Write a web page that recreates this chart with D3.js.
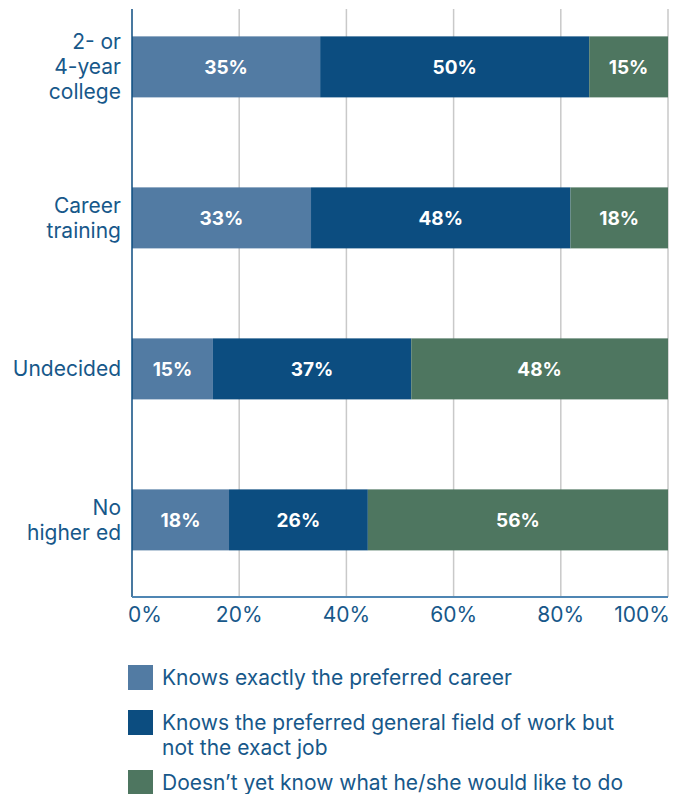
<!DOCTYPE html>
<html>
<head>
<meta charset="utf-8">
<script src="https://cdn.jsdelivr.net/npm/d3@7"></script>
<style>
  body { margin: 0; background: #fff; }
  svg { display: block; font-family: Inter, "Noto Sans", sans-serif; }
</style>
</head>
<body>
<svg id="chart" width="689" height="794"></svg>
<script>
// categories (top to bottom), each label split into lines
var categories = ['college', 'training', 'undecided', 'none'];
var categoryLines = [
  ['2- or', '4-year', 'college'],
  ['Career', 'training'],
  ['Undecided'],
  ['No', 'higher ed']
];

// series values in percent (bar lengths; labels are rounded)
var knowsCareer = [35.1, 33.4, 15.1, 18.1];
var knowsField = [50.2, 48.4, 37.0, 25.9];
var doesntKnow = [14.7, 18.2, 47.9, 56.0];

var seriesNames = [
  'Knows exactly the preferred career',
  'Knows the preferred general field of work but not the exact job',
  'Doesn\u2019t yet know what he/she would like to do'
];
var legendLines = [
  ['Knows exactly the preferred career'],
  ['Knows the preferred general field of work but', 'not the exact job'],
  ['Doesn\u2019t yet know what he/she would like to do']
];
var xTicks = [0, 20, 40, 60, 80, 100];

var colors = ['#527ba3', '#0c4d80', '#4e7660'];
var textColor = '#17588a';

var svg = d3.select('#chart');
var plotLeft = 132, plotRight = 668, plotTop = 9, plotBottom = 597;
var fontSize = 21;

var x = d3.scaleLinear().domain([0, 100]).range([plotLeft, plotRight]);
var y = d3.scaleBand().domain(categories).range([plotTop, plotBottom])
    .paddingInner(0.596).paddingOuter(0.245).align(0.37);

// build rows for stacking
var rows = categories.map(function (c, i) {
  return { cat: c, s0: knowsCareer[i], s1: knowsField[i], s2: doesntKnow[i] };
});
var stack = d3.stack().keys(['s0', 's1', 's2']);
var layers = stack(rows);

// gridlines
svg.append('g').selectAll('line')
  .data(xTicks.filter(function (d) { return d > 0; }))
  .enter().append('line')
  .attr('x1', function (d) { return x(d); })
  .attr('x2', function (d) { return x(d); })
  .attr('y1', plotTop)
  .attr('y2', plotBottom)
  .attr('stroke', '#c9c9c9')
  .attr('stroke-width', 1.5);

// bars
var layerG = svg.append('g').selectAll('g')
  .data(layers)
  .enter().append('g')
  .attr('fill', function (d, i) { return colors[i]; });

layerG.selectAll('rect')
  .data(function (d) { return d; })
  .enter().append('rect')
  .attr('x', function (d) { return x(d[0]); })
  .attr('width', function (d) { return x(d[1]) - x(d[0]); })
  .attr('y', function (d) { return y(d.data.cat); })
  .attr('height', y.bandwidth());

// value labels
layerG.selectAll('text')
  .data(function (d) { return d; })
  .enter().append('text')
  .attr('x', function (d) { return (x(d[0]) + x(d[1])) / 2; })
  .attr('y', function (d) { return y(d.data.cat) + y.bandwidth() / 2; })
  .attr('dy', '0.36em')
  .attr('text-anchor', 'middle')
  .attr('fill', '#fff')
  .attr('font-weight', 700)
  .attr('font-size', 19)
  .text(function (d) { return Math.round(d[1] - d[0]) + '%'; });

// y axis line
svg.append('line')
  .attr('x1', plotLeft).attr('x2', plotLeft)
  .attr('y1', plotTop).attr('y2', plotBottom)
  .attr('stroke', '#0c4d80').attr('stroke-width', 1.5);

// x axis line
svg.append('line')
  .attr('x1', plotLeft).attr('x2', plotRight)
  .attr('y1', plotBottom).attr('y2', plotBottom)
  .attr('stroke', '#4f86b3').attr('stroke-width', 2);

// x tick labels
svg.append('g').selectAll('text')
  .data(xTicks)
  .enter().append('text')
  .attr('x', function (d) { return x(d); })
  .attr('y', 622)
  .attr('text-anchor', function (d, i) {
    return i === 0 ? 'start' : (i === xTicks.length - 1 ? 'end' : 'middle');
  })
  .attr('dx', function (d, i) { return i === 0 ? -4 : (i === xTicks.length - 1 ? 2 : 0); })
  .attr('fill', textColor)
  .attr('font-size', fontSize)
  .text(function (d) { return d + '%'; });

// category labels
var lineH = 25;
var catG = svg.append('g').selectAll('text')
  .data(categories)
  .enter().append('text')
  .attr('text-anchor', 'end')
  .attr('fill', textColor)
  .attr('font-size', fontSize);

catG.each(function (c, i) {
  var lines = categoryLines[i];
  var cy = y(c) + y.bandwidth() / 2;
  var startY = cy - (lines.length - 1) * lineH / 2;
  d3.select(this).selectAll('tspan')
    .data(lines)
    .enter().append('tspan')
    .attr('x', 121)
    .attr('y', function (d, j) { return startY + j * lineH; })
    .attr('dy', '0.36em')
    .text(function (d) { return d; });
});

// legend
var legendTops = [665, 710, 770];
var legend = svg.append('g').selectAll('g')
  .data(seriesNames)
  .enter().append('g');

legend.append('rect')
  .attr('x', 128)
  .attr('y', function (d, i) { return legendTops[i]; })
  .attr('width', 25)
  .attr('height', 25)
  .attr('fill', function (d, i) { return colors[i]; });

legend.append('text')
  .attr('fill', textColor)
  .attr('font-size', fontSize)
  .each(function (d, i) {
    d3.select(this).selectAll('tspan')
      .data(legendLines[i])
      .enter().append('tspan')
      .attr('x', 162)
      .attr('y', function (t, j) { return legendTops[i] + 20 + j * 25; })
      .text(function (t) { return t; });
  });
</script>
</body>
</html>
